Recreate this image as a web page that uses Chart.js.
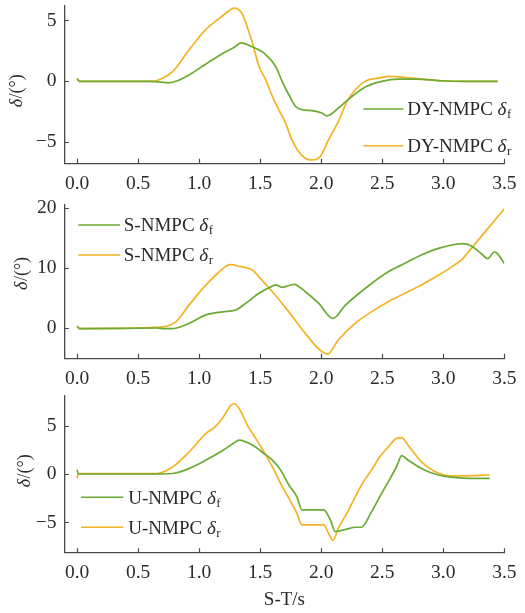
<!DOCTYPE html>
<html>
<head>
<meta charset="utf-8">
<script src="https://cdn.jsdelivr.net/npm/chart.js@4.4.1/dist/chart.umd.min.js"></script>
<style>
  html, body { margin: 0; padding: 0; background: #ffffff; }
  #wrap { position: relative; width: 525px; height: 613px; overflow: hidden; }
  #wrap canvas { position: absolute; left: 0; }
</style>
</head>
<body>
<div id="wrap">
  <canvas id="c1" width="525" height="219" style="top:-24px"></canvas>
  <canvas id="c2" width="525" height="215" style="top:175px"></canvas>
  <canvas id="c3" width="525" height="247" style="top:366px"></canvas>
</div>
<script>
// ---- steering angle traces (time in s, angle in degrees) ----
const xTicks = [0, 0.5, 1.0, 1.5, 2.0, 2.5, 3.0, 3.5];
const yTicksDY = [-5, 0, 5];
const yTicksS = [0, 10, 20];
const yTicksU = [-5, 0, 5];

// DY-NMPC
const dyFrontT = [0, 0.02, 0.6, 0.68, 0.75, 0.82, 0.92, 1.056, 1.19, 1.30, 1.34, 1.436, 1.545, 1.626, 1.68, 1.735, 1.79, 1.843, 1.925, 2.006, 2.047, 2.14, 2.22, 2.36, 2.495, 2.63, 2.77, 2.98, 3.2, 3.445];
const dyFrontV = [0.2, 0, 0, -0.05, -0.12, 0.05, 0.55, 1.43, 2.26, 2.88, 3.16, 2.83, 2.2, 1.24, 0, -1.1, -2.06, -2.33, -2.4, -2.6, -2.83, -2.2, -1.5, -0.47, 0, 0.19, 0.19, 0.05, 0, 0];
const dyRearT = [0, 0.02, 0.62, 0.7, 0.785, 0.92, 1.056, 1.19, 1.26, 1.287, 1.32, 1.355, 1.436, 1.49, 1.545, 1.60, 1.653, 1.708, 1.76, 1.816, 1.87, 1.925, 1.99, 2.06, 2.14, 2.22, 2.36, 2.495, 2.55, 2.77, 2.98, 3.2, 3.445];
const dyRearV = [0.25, 0, 0, 0.25, 0.82, 2.61, 4.26, 5.36, 5.9, 6.0, 5.9, 5.5, 3.16, 1.24, 0.14, -1.24, -2.33, -3.43, -4.8, -5.77, -6.31, -6.45, -6.18, -4.8, -3.3, -1.5, 0, 0.3, 0.41, 0.25, 0.05, 0, 0];

// S-NMPC
const sFrontT = [0, 0.02, 0.65, 0.72, 0.785, 0.85, 0.92, 1.056, 1.19, 1.30, 1.38, 1.49, 1.60, 1.626, 1.68, 1.776, 1.87, 1.98, 2.096, 2.197, 2.41, 2.55, 2.686, 2.82, 2.96, 3.09, 3.16, 3.23, 3.31, 3.364, 3.42, 3.44, 3.5];
const sFrontV = [0.3, -0.1, 0, -0.1, -0.1, 0.2, 0.8, 2.2, 2.7, 3.0, 4.1, 5.8, 7.0, 7.2, 6.8, 7.3, 6.05, 4.1, 1.6, 3.8, 7.4, 9.4, 10.8, 12.2, 13.3, 13.95, 14.1, 13.7, 12.45, 11.6, 12.7, 12.5, 10.8];
const sRearT = [0, 0.02, 0.65, 0.8, 0.92, 1.056, 1.165, 1.233, 1.26, 1.328, 1.436, 1.49, 1.60, 1.735, 1.87, 1.99, 2.053, 2.14, 2.28, 2.41, 2.55, 2.686, 2.82, 2.96, 3.09, 3.16, 3.23, 3.364, 3.5];
const sRearV = [0.3, -0.1, 0.1, 0.9, 3.9, 7.2, 9.4, 10.5, 10.6, 10.3, 9.7, 8.55, 6.05, 2.7, -0.9, -3.7, -4.35, -2.0, 0.8, 2.7, 4.4, 5.8, 7.2, 8.8, 10.5, 11.6, 13.3, 16.6, 19.9];

// U-NMPC
const uFrontT = [0, 0.01, 0.7, 0.785, 0.92, 1.056, 1.19, 1.30, 1.328, 1.436, 1.53, 1.60, 1.667, 1.735, 1.80, 1.843, 2.02, 2.075, 2.115, 2.14, 2.21, 2.28, 2.33, 2.413, 2.48, 2.55, 2.617, 2.66, 2.71, 2.82, 2.96, 3.09, 3.23, 3.38];
const uFrontV = [0.45, 0, 0, 0.05, 0.58, 1.44, 2.4, 3.33, 3.5, 2.99, 2.13, 1.44, 0.41, -1.13, -2.34, -3.7, -3.7, -4.74, -5.95, -5.9, -5.7, -5.5, -5.5, -3.89, -2.34, -0.79, 0.75, 1.89, 1.44, 0.58, -0.1, -0.34, -0.45, -0.45];
const uRearT = [0, 0.01, 0.65, 0.785, 0.92, 1.056, 1.124, 1.19, 1.26, 1.287, 1.328, 1.395, 1.464, 1.53, 1.60, 1.667, 1.735, 1.80, 1.843, 2.02, 2.06, 2.096, 2.14, 2.21, 2.28, 2.346, 2.413, 2.48, 2.55, 2.617, 2.66, 2.71, 2.82, 2.96, 3.09, 3.23, 3.38];
const uRearV = [-0.45, 0.05, 0.05, 0.75, 2.3, 4.2, 4.8, 5.74, 7.1, 7.26, 6.77, 5.05, 3.68, 2.3, 0.75, -0.96, -2.5, -4.05, -5.26, -5.26, -6.1, -6.87, -5.6, -4.05, -2.34, -0.79, 0.41, 1.78, 2.8, 3.68, 3.75, 3.0, 1.27, 0.07, -0.2, -0.17, -0.1];

const yTitleMain = 'δ';
const yTitleRest = '/(°)';
const xTitle = 'S-T/s';

// ---- styling ----
const GREEN = '#6aab33';
const ORANGE = '#f4b324';
const AXIS = '#4a4a4a';
const TEXT = '#2a2a2a';
const SERIF = '"Liberation Serif", "Times New Roman", serif';
const TICK_LEN = 4.5;

const pairs = (ts, vs) => ts.map((t, i) => ({ x: t, y: vs[i] }));

// ticks drawn inward from the left and bottom spines
const inwardTicks = {
  id: 'inwardTicks',
  afterDraw(chart) {
    const { ctx, chartArea, scales } = chart;
    ctx.save();
    ctx.strokeStyle = AXIS;
    ctx.lineWidth = 1.2;
    ctx.beginPath();
    scales.x.ticks.forEach(t => {
      const p = Math.round(scales.x.getPixelForValue(t.value)) + 0.5;
      ctx.moveTo(p, chartArea.bottom);
      ctx.lineTo(p, chartArea.bottom - TICK_LEN);
    });
    scales.y.ticks.forEach(t => {
      const p = Math.round(scales.y.getPixelForValue(t.value)) + 0.5;
      ctx.moveTo(chartArea.left, p);
      ctx.lineTo(chartArea.left + TICK_LEN, p);
    });
    ctx.stroke();
    ctx.restore();
  }
};

// rotated y title with an italic symbol
const yTitle = {
  id: 'yTitle',
  afterDraw(chart, args, opts) {
    const ctx = chart.ctx;
    ctx.save();
    ctx.translate(opts.x, opts.y);
    ctx.rotate(-Math.PI / 2);
    ctx.fillStyle = TEXT;
    ctx.textBaseline = 'middle';
    ctx.textAlign = 'left';
    const fItal = 'italic 18px ' + SERIF;
    const fReg = '18px ' + SERIF;
    ctx.font = fItal;
    const w1 = ctx.measureText(yTitleMain).width;
    ctx.font = fReg;
    const w2 = ctx.measureText(yTitleRest).width;
    const x0 = -(w1 + w2) / 2;
    ctx.font = fItal;
    ctx.fillText(yTitleMain, x0, 0);
    ctx.font = fReg;
    ctx.fillText(yTitleRest, x0 + w1 + 0.5, 0);
    ctx.restore();
  }
};

// legend with italic symbol and subscript
const subLegend = {
  id: 'subLegend',
  afterDraw(chart, args, opts) {
    const ctx = chart.ctx;
    ctx.save();
    chart.data.datasets.forEach((ds, i) => {
      const y = opts.rows[i];
      ctx.strokeStyle = ds.borderColor;
      ctx.lineWidth = 1.6;
      ctx.beginPath();
      ctx.moveTo(opts.x0, y);
      ctx.lineTo(opts.x1, y);
      ctx.stroke();
      const base = y + 6.4;
      let x = opts.tx;
      ctx.fillStyle = TEXT;
      ctx.textBaseline = 'alphabetic';
      ctx.textAlign = 'left';
      ctx.font = '19px ' + SERIF;
      ctx.fillText(ds.namePart, x, base);
      x += ctx.measureText(ds.namePart).width;
      ctx.font = 'italic 19px ' + SERIF;
      ctx.fillText(ds.symbol, x, base);
      x += ctx.measureText(ds.symbol).width + 0.5;
      ctx.font = '13px ' + SERIF;
      ctx.fillText(ds.sub, x, base + 3);
    });
    ctx.restore();
  }
};

function makeChart(id, cfg) {
  const ds = (label, namePart, sub, color, t, v) => ({
    label, namePart, symbol: 'δ', sub,
    data: pairs(t, v),
    borderColor: color,
    backgroundColor: color,
    borderWidth: 1.7,
    pointRadius: 0,
    cubicInterpolationMode: 'monotone',
    fill: false
  });
  return new Chart(document.getElementById(id), {
    type: 'line',
    data: {
      datasets: [
        ds(cfg.prefix + ' δf', cfg.prefix + ' ', 'f', GREEN, cfg.fT, cfg.fV),
        ds(cfg.prefix + ' δr', cfg.prefix + ' ', 'r', ORANGE, cfg.rT, cfg.rV)
      ]
    },
    options: {
      responsive: false,
      animation: false,
      devicePixelRatio: 1,
      layout: { padding: { left: 0, right: 18, top: 30, bottom: 0 } },
      plugins: {
        legend: { display: false },
        tooltip: { enabled: false },
        yTitle: cfg.yTitle,
        subLegend: cfg.legend
      },
      scales: {
        x: {
          type: 'linear',
          min: -0.103,
          max: 3.5,
          afterBuildTicks: s => { s.ticks = xTicks.map(v => ({ value: v })); },
          afterFit: s => { s.height = cfg.xHeight; },
          grid: { display: true, drawOnChartArea: false, drawTicks: false },
          border: { display: true, color: AXIS, width: 1.3 },
          ticks: {
            padding: 8.5,
            color: TEXT,
            font: { family: SERIF, size: 19.5 },
            maxRotation: 0,
            callback: v => v.toFixed(1)
          },
          title: cfg.xTitle ? {
            display: true,
            text: xTitle,
            color: TEXT,
            font: { family: SERIF, size: 19 },
            padding: { top: 0, bottom: 2 }
          } : { display: false }
        },
        y: {
          type: 'linear',
          min: cfg.yMin,
          max: cfg.yMax,
          afterBuildTicks: s => { s.ticks = cfg.yTicks.map(v => ({ value: v })); },
          afterFit: s => { s.width = 64.5; },
          grid: { display: true, drawOnChartArea: false, drawTicks: false },
          border: { display: true, color: AXIS, width: 1.3 },
          ticks: {
            padding: 8,
            color: TEXT,
            font: { family: SERIF, size: 19.5 },
            callback: v => (v < 0 ? '\u2212' + Math.abs(v) : String(v))
          }
        }
      }
    },
    plugins: [inwardTicks, yTitle, subLegend]
  });
}

// top panel: canvas top at -24
makeChart('c1', {
  prefix: 'DY-NMPC',
  fT: dyFrontT, fV: dyFrontV, rT: dyRearT, rV: dyRearV,
  yMin: -6.72, yMax: 6.18, yTicks: yTicksDY,
  xHeight: 31.7,
  yTitle: { x: 17.5, y: 91 + 24 },
  legend: { x0: 363.3, x1: 403.3, tx: 407.3, rows: [109 + 24, 145.7 + 24] }
});

// middle panel: canvas top at 175
makeChart('c2', {
  prefix: 'S-NMPC',
  fT: sFrontT, fV: sFrontV, rT: sRearT, rV: sRearV,
  yMin: -5.06, yMax: 20.55, yTicks: yTicksS,
  xHeight: 31.7,
  yTitle: { x: 22.5, y: 273.7 - 175 },
  legend: { x0: 78.3, x1: 120, tx: 123.8, rows: [225 - 175, 255 - 175] }
});

// bottom panel: canvas top at 366
makeChart('c3', {
  prefix: 'U-NMPC',
  fT: uFrontT, fV: uFrontV, rT: uRearT, rV: uRearV,
  yMin: -8.13, yMax: 8.06, yTicks: yTicksU,
  xHeight: 60.3,
  xTitle: true,
  yTitle: { x: 25, y: 471 - 366 },
  legend: { x0: 81, x1: 123.3, tx: 128.3, rows: [497.3 - 366, 527.3 - 366] }
});
</script>
</body>
</html>
